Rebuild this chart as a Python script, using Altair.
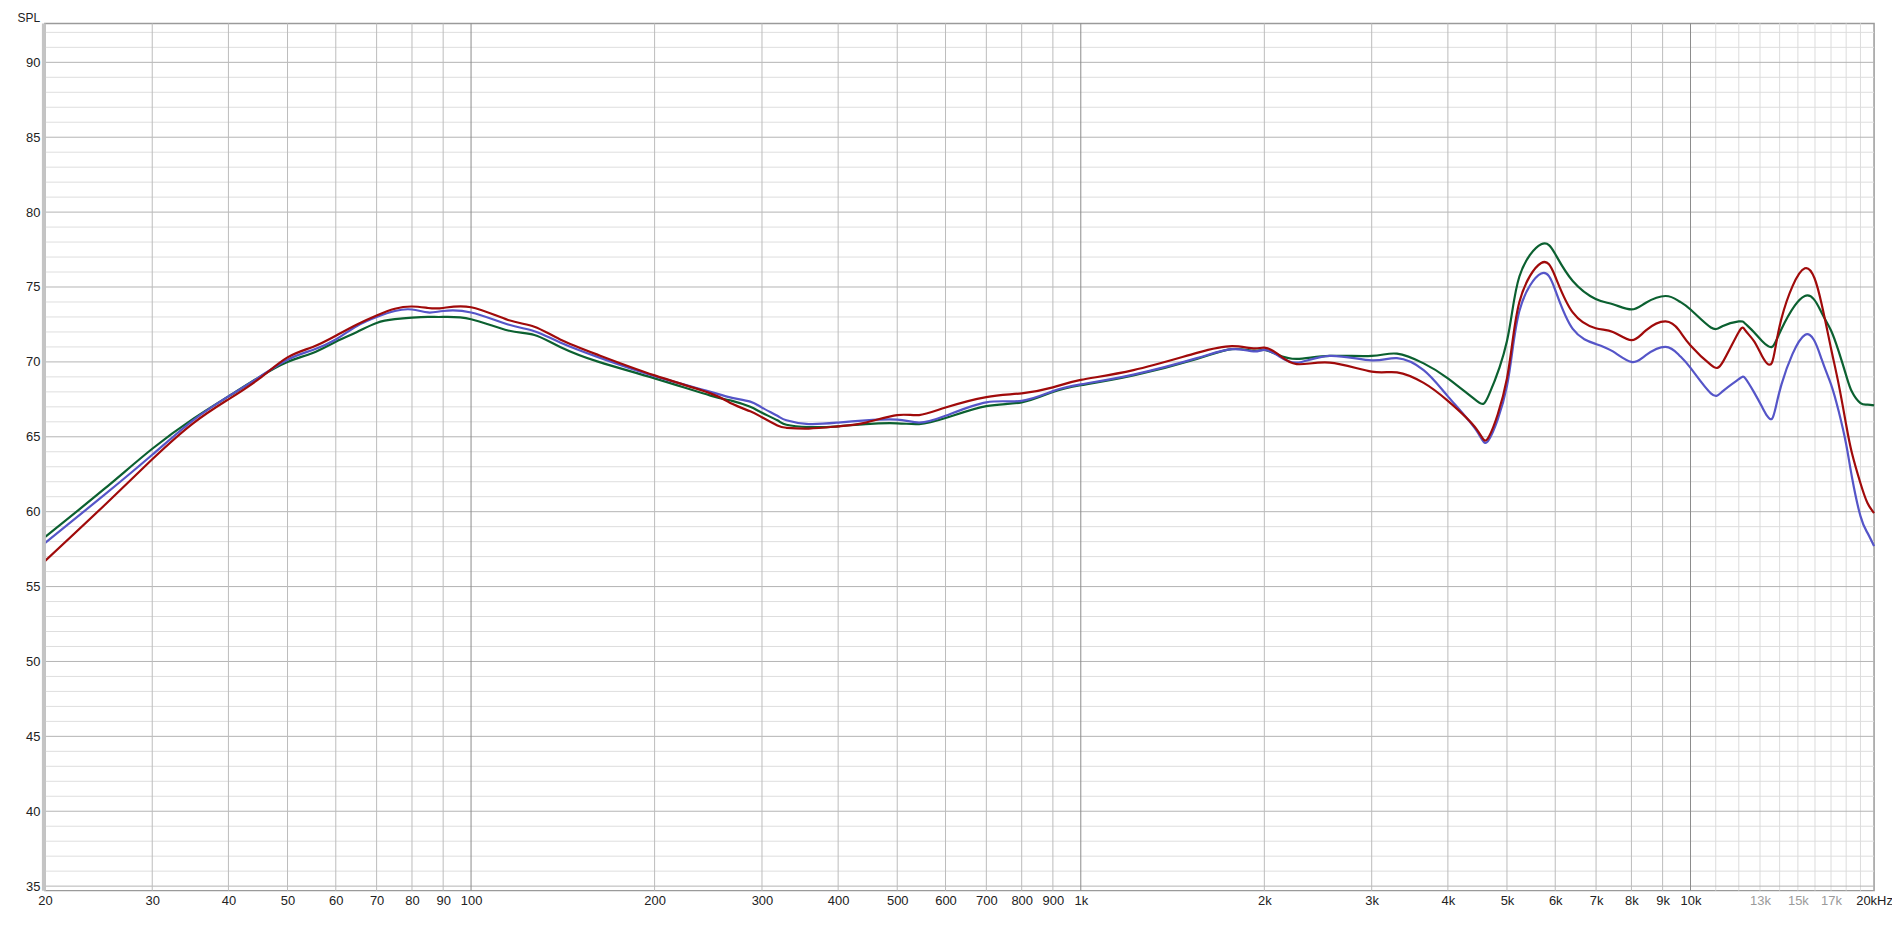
import altair as alt
import pandas as pd

# ---- data ----
freq = [20, 25, 30, 35, 40, 45, 50, 55, 60, 65, 70, 75, 80, 85, 90, 100, 115, 127, 140, 162,
        200, 247, 268, 287, 300, 318, 329, 358, 400, 444, 500, 543, 600, 700, 800, 900,
        1000, 1220, 1550, 1770, 1920, 2000, 2100, 2260, 2560, 3000, 3300, 3650, 4000, 4460,
        4670, 5000, 5240, 5690, 6000, 6410, 6990, 7460, 8000, 8450, 9100, 9580, 10000, 10800,
        11300, 12000, 12300, 12700, 13100, 13600, 14100, 15400, 16400, 17000, 17500, 18000,
        18400, 19000, 19500, 20000]

red = [56.7, 60.4, 63.5, 65.9, 67.5, 68.9, 70.3, 71.0, 71.75, 72.5, 73.1, 73.55, 73.7, 73.6, 73.6, 73.65, 72.8, 72.35, 71.5, 70.45,
       69.1, 67.9, 67.2, 66.7, 66.3, 65.75, 65.6, 65.55, 65.7, 65.95, 66.45, 66.45, 66.95, 67.65, 67.9, 68.3,
       68.8, 69.45, 70.6, 71.05, 70.9, 70.95, 70.55, 69.85, 69.95, 69.35, 69.3, 68.6, 67.4, 65.5,
       65.0, 68.9, 74.0, 76.6, 75.7, 73.3, 72.25, 72.0, 71.45, 72.1, 72.7, 72.1, 71.1, 69.8,
       70.0, 72.0, 72.1, 71.4, 70.4, 69.95, 72.9, 76.25, 73.9, 70.9, 68.5, 65.8,
       63.9, 61.9, 60.6, 59.9]

blue = [57.9, 61.1, 63.8, 66.1, 67.7, 69.0, 70.15, 70.8, 71.5, 72.4, 73.0, 73.4, 73.5, 73.3, 73.4, 73.3, 72.5, 72.05, 71.3, 70.3,
        69.05, 68.0, 67.6, 67.35, 66.95, 66.4, 66.1, 65.85, 65.95, 66.1, 66.15, 65.95, 66.4, 67.3, 67.4, 68.05,
        68.5, 69.15, 70.25, 70.85, 70.7, 70.8, 70.45, 69.95, 70.4, 70.1, 70.25, 69.45, 67.7, 65.4,
        64.8, 68.4, 73.4, 75.9, 74.8, 72.2, 71.2, 70.7, 70.0, 70.45, 71.0, 70.45, 69.6, 67.9,
        68.05, 68.85, 68.9, 68.0, 67.0, 66.2, 68.5, 71.8, 70.2, 68.5, 66.7, 64.5,
        62.3, 59.7, 58.6, 57.7]

green = [58.3, 61.5, 64.2, 66.2, 67.7, 69.0, 70.0, 70.6, 71.35, 72.0, 72.6, 72.85, 72.95, 73.0, 73.0, 72.85, 72.1, 71.8, 71.0, 70.0,
         68.9, 67.75, 67.4, 67.0, 66.6, 66.1, 65.8, 65.65, 65.7, 65.85, 65.9, 65.85, 66.25, 67.05, 67.3, 68.0,
         68.45, 69.1, 70.2, 70.85, 70.75, 70.8, 70.5, 70.2, 70.4, 70.4, 70.55, 69.9, 68.9, 67.4,
         67.8, 71.4, 75.7, 77.85, 77.2, 75.4, 74.2, 73.85, 73.5, 73.95, 74.4, 74.05, 73.5, 72.3,
         72.4, 72.7, 72.55, 72.0, 71.4, 71.0, 72.2, 74.4, 73.3, 72.1, 70.7, 69.1,
         68.0, 67.25, 67.15, 67.1]

series_names = ["green", "blue", "red"]
series_colors = ["#0b6030", "#5555c8", "#a00a0a"]

x_ticks = [20, 30, 40, 50, 60, 70, 80, 90, 100, 200, 300, 400, 500, 600, 700, 800, 900,
           1000, 2000, 3000, 4000, 5000, 6000, 7000, 8000, 9000, 10000, 13000, 15000, 17000, 20000]
grid_x = [30, 40, 50, 60, 70, 80, 90, 200, 300, 400, 500, 600, 700, 800, 900,
          2000, 3000, 4000, 5000, 6000, 7000, 8000, 9000]
grid_x_decade = [100, 1000, 10000]
grid_x_hf = [11000, 12000, 13000, 14000, 15000, 16000, 17000, 18000, 19000]
y_ticks = [35, 40, 45, 50, 55, 60, 65, 70, 75, 80, 85, 90]
grid_y_minor = [v for v in range(35, 93) if v % 5 != 0]

# ---- build tables ----
rows = []
for name, vals in zip(series_names, [green, blue, red]):
    for f, v in zip(freq, vals):
        rows.append({"f": f, "spl": v, "s": name})
df = pd.DataFrame(rows)

W, H = 1835, 870
FONT = "Liberation Sans Narrow, Arial Narrow, Liberation Sans, Arial, sans-serif"

xs = alt.Scale(type="log", domain=[20, 20000], nice=False)
ys = alt.Scale(domain=[34.7, 92.6], nice=False, zero=False)

x_axis = alt.Axis(
    values=x_ticks,
    labelExpr="datum.value >= 20000 ? '20kHz' : (datum.value >= 1000 ? (datum.value/1000) + 'k' : datum.value + '')",
    grid=False,
    ticks=False,
    domain=False,
    title=None,
    labelFont=FONT,
    labelFontSize=13,
    labelColor={"condition": {"test": "datum.value > 10000 && datum.value < 20000", "value": "#9a9a9a"},
                "value": "#222222"},
    labelPadding=4,
    labelFlush=False,
    labelOverlap=False,
)
y_axis = alt.Axis(
    values=y_ticks,
    grid=False,
    ticks=False,
    domain=False,
    title="SPL",
    titleAngle=0,
    titleX=-28,
    titleY=-2,
    titleAlign="left",
    titleBaseline="alphabetic",
    titleFont=FONT,
    titleFontSize=12,
    titleFontWeight="normal",
    titleColor="#222222",
    labelFont=FONT,
    labelFontSize=13,
    labelColor="#222222",
    labelPadding=5,
    labelOverlap=False,
)


def vrules(vals, color, width=1):
    return alt.Chart(pd.DataFrame({"f": vals})).mark_rule(color=color, strokeWidth=width).encode(
        x=alt.X("f:Q", scale=xs, axis=x_axis)
    )


def hrules(vals, color, width=1):
    return alt.Chart(pd.DataFrame({"spl": vals})).mark_rule(color=color, strokeWidth=width).encode(
        y=alt.Y("spl:Q", scale=ys, axis=y_axis)
    )


g_ymin = hrules(grid_y_minor, "#dedede")
g_xhf = vrules(grid_x_hf, "#dcdcdc")
g_ymaj = hrules(y_ticks, "#b4b4b4")
g_x = vrules(grid_x, "#bcbcbc")
g_xdec = vrules(grid_x_decade, "#8c8c8c")

lines = alt.Chart(df).mark_line(strokeWidth=2.2, interpolate="natural").encode(
    x=alt.X("f:Q", scale=xs, axis=x_axis),
    y=alt.Y("spl:Q", scale=ys, axis=y_axis),
    color=alt.Color("s:N", scale=alt.Scale(domain=series_names, range=series_colors), legend=None),
    order=alt.Order("f:Q"),
)

left_edge = alt.Chart(pd.DataFrame({"a": [0]})).mark_rule(color="#c4c4c4", strokeWidth=4).encode(
    x=alt.value(-1), y=alt.value(0), y2=alt.value(H)
)

chart = alt.layer(g_ymin, g_xhf, g_ymaj, g_x, g_xdec, lines, left_edge).properties(
    width=W,
    height=H,
    padding={"left": 37, "top": 14, "right": 18, "bottom": 18},
    autosize=alt.AutoSizeParams(type="none"),
    background="white",
).configure_view(stroke="#9a9a9a", strokeWidth=1.5)

chart.save("out.html", embed_options={"renderer": "svg", "actions": False})
